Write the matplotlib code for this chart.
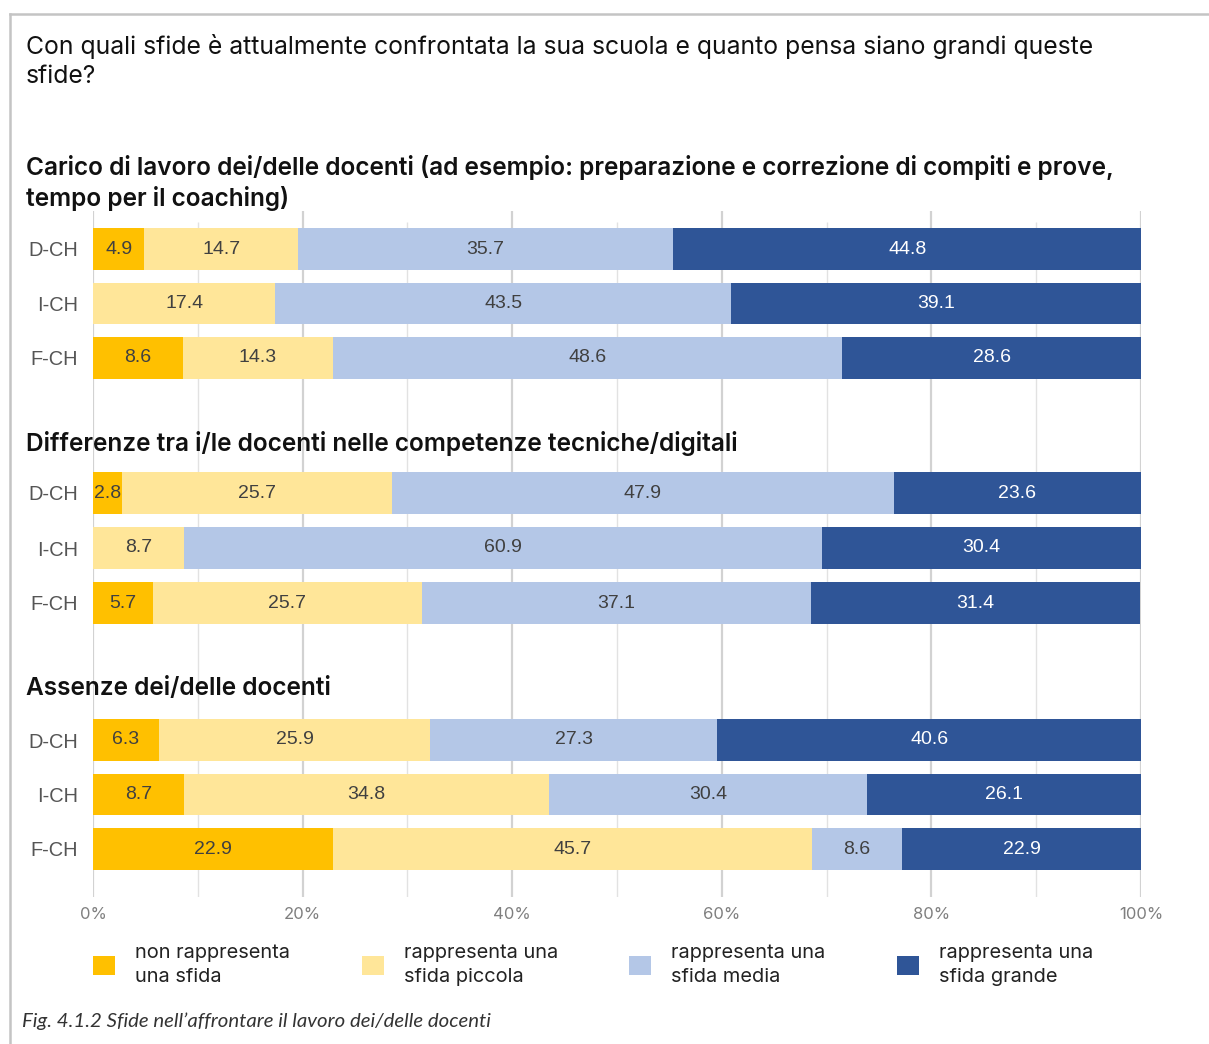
import matplotlib.pyplot as plt
from matplotlib.patches import Patch
from matplotlib.lines import Line2D

# regions and challenge sections
categories = ["D-CH", "I-CH", "F-CH"]
sections = [
    "Carico di lavoro dei/delle docenti (ad esempio: preparazione e correzione di compiti e prove,\ntempo per il coaching)",
    "Differenze tra i/le docenti nelle competenze tecniche/digitali",
    "Assenze dei/delle docenti",
]

# shares in %, one inner list per section (D-CH, I-CH, F-CH)
non_sfida = [[4.9, 0.0, 8.6], [2.8, 0.0, 5.7], [6.3, 8.7, 22.9]]
sfida_piccola = [[14.7, 17.4, 14.3], [25.7, 8.7, 25.7], [25.9, 34.8, 45.7]]
sfida_media = [[35.7, 43.5, 48.6], [47.9, 60.9, 37.1], [27.3, 30.4, 8.6]]
sfida_grande = [[44.8, 39.1, 28.6], [23.6, 30.4, 31.4], [40.6, 26.1, 22.9]]

series_labels = ["non rappresenta\nuna sfida", "rappresenta una\nsfida piccola",
                 "rappresenta una\nsfida media", "rappresenta una\nsfida grande"]
colors = ["#FFC000", "#FFE699", "#B4C7E7", "#2F5597"]
text_colors = ["#404040", "#404040", "#404040", "white"]

major_ticks = [0, 20, 40, 60, 80, 100]
minor_ticks = [10, 30, 50, 70, 90]

W, H = 1209, 1044
fig = plt.figure(figsize=(W / 100, H / 100), dpi=100)


def fx(px):
    return px / W


def fy(py):
    return 1 - py / H


# frame around the figure (top and left edge only)
fig.add_artist(Line2D([fx(10), 1], [fy(14), fy(14)], color="#c4c4c4", lw=1.8))
fig.add_artist(Line2D([fx(10), fx(10)], [fy(14), 0], color="#c4c4c4", lw=1.8))

# background axes: grid lines and x tick labels shared by all sections
left, right = 93, 1141
grid_top, grid_bottom = 211, 897
bg = fig.add_axes([fx(left), fy(grid_bottom), fx(right - left), (grid_bottom - grid_top) / H])
bg.set_xlim(0, 100)
bg.set_ylim(0, 1)
bg.vlines(major_ticks, 0, 1, color="#d2d2d2", lw=1.6)
bg.vlines(minor_ticks, 0, (grid_bottom - 222) / (grid_bottom - grid_top), color="#e2e2e2", lw=1.0)
for s in bg.spines.values():
    s.set_visible(False)
bg.set_yticks([])
bg.set_xticks(major_ticks)
bg.set_xticklabels([f"{t}%" for t in major_ticks], fontsize=12, color="#7f7f7f", family="Inter")
bg.tick_params(axis="x", length=0, pad=7)

# one axes per section, stacked bars
panel_rows = [(249, 358), (493, 603), (740, 849)]
heading_y = [183, 443, 688]
for k, (r0, r1) in enumerate(panel_rows):
    step = (r1 - r0) / 2
    top = r0 - step / 2
    bottom = r1 + step / 2
    ax = fig.add_axes([fx(left), fy(bottom), fx(right - left), (bottom - top) / H])
    ax.patch.set_alpha(0)
    ax.set_xlim(0, 100)
    ax.set_ylim(2.5, -0.5)
    y = range(len(categories))
    starts = [0.0] * len(categories)
    for j, vals in enumerate([non_sfida[k], sfida_piccola[k], sfida_media[k], sfida_grande[k]]):
        ax.barh(y, vals, left=starts, height=0.77, color=colors[j], linewidth=0)
        for i, v in enumerate(vals):
            if v > 0:
                ax.text(starts[i] + v / 2, i, f"{v:.1f}", ha="center", va="center",
                        fontsize=14, color=text_colors[j], family="Liberation Sans")
        starts = [a + b for a, b in zip(starts, vals)]
    ax.set_yticks(list(y))
    ax.set_yticklabels(categories, fontsize=14.4, color="#555555", family="Liberation Sans")
    ax.tick_params(axis="y", length=0, pad=11)
    ax.set_xticks([])
    for s in ax.spines.values():
        s.set_visible(False)
    fig.text(fx(26), fy(heading_y[k]), sections[k], ha="left", va="center",
             fontsize=17.6, fontweight="semibold", family="Inter", color="#111111",
             linespacing=1.3)

# main question
fig.text(fx(26), fy(61), "Con quali sfide è attualmente confrontata la sua scuola e quanto pensa siano grandi queste\nsfide?",
         ha="left", va="center", fontsize=17.8, family="Inter", color="#111111", linespacing=1.33)

# legend
handles = [Patch(facecolor=c, edgecolor="none") for c in colors]
fig.legend(handles, series_labels, loc="upper left", bbox_to_anchor=(fx(93), fy(944)),
           ncol=4, frameon=False, borderpad=0, borderaxespad=0,
           prop={"family": "Inter", "size": 14.4},
           handlelength=1.1, handleheight=1.1, handletextpad=1.0, columnspacing=3.58,
           labelcolor="#222222")
for t in fig.legends[0].get_texts():
    t.set_linespacing(1.42)

fig.text(fx(22), fy(1021), "Fig. 4.1.2 Sfide nell\u2019affrontare il lavoro dei/delle docenti",
         ha="left", va="center", fontsize=14.7, style="italic", family="Lato", color="#333333")

fig.savefig("out.png", dpi=100)
